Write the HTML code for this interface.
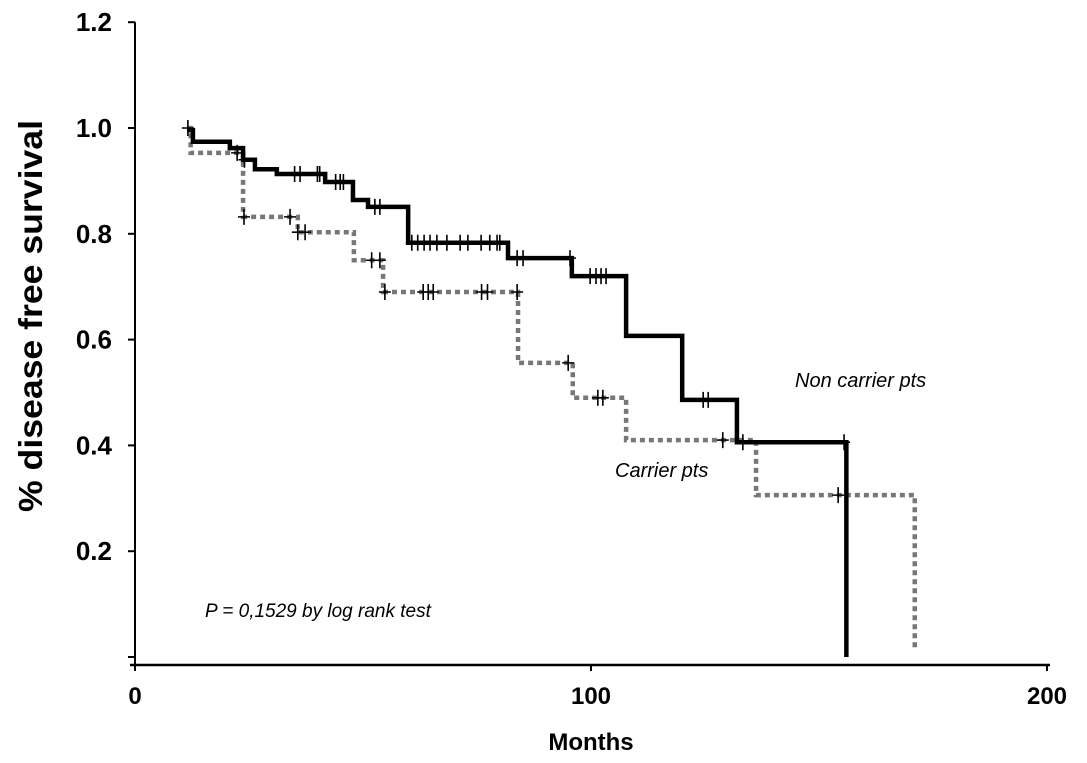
<!DOCTYPE html>
<html><head><meta charset="utf-8"><style>
body{margin:0;background:#fff;}
svg{display:block;font-family:"Liberation Sans",sans-serif;}
</style></head><body>
<svg id="chart" width="1087" height="763" viewBox="0 0 1087 763">
<g id="axes"></g>
<g id="series"></g>
<text x="0" y="0" transform="translate(42,316) rotate(-90)" text-anchor="middle" font-size="33" font-weight="bold" textLength="392" lengthAdjust="spacingAndGlyphs">% disease free survival</text>
<text x="591" y="750" text-anchor="middle" font-size="24" font-weight="bold">Months</text>
<text x="795" y="387" font-size="20" font-style="italic">Non carrier pts</text>
<text x="615" y="477" font-size="20" font-style="italic">Carrier pts</text>
<text x="205" y="617" font-size="19" font-style="italic">P = 0,1529 by log rank test</text>
</svg>
<script>
const xTicks=[0,100,200];
const yTicks=[0.2,0.4,0.6,0.8,1.0,1.2];
const yTickLabels=["0.2","0.4","0.6","0.8","1.0","1.2"];
const nonTimes=[11.4,12.7,20.8,23.7,26.3,31.1,41.7,47.8,51.1,59.9,81.8,95.8,107.7,120,132,156];
const nonSurv=[0.996,0.974,0.962,0.94,0.922,0.913,0.898,0.864,0.851,0.783,0.754,0.72,0.607,0.486,0.406,0];
const nonCensorT=[24,35,36.2,40,40.5,44,45,45.7,52.6,53.7,60.7,62,63.4,64.7,66.2,68.4,71.3,73,75.9,77.8,79.4,80,83.8,85.1,95.4,99.8,101.1,102.2,103.3,124.6,125.7,133.3,155.5];
const carTimes=[11.4,12.2,23.7,35.7,48,54.4,84,96,107.7,136.2,171];
const carSurv=[1.0,0.953,0.832,0.803,0.75,0.69,0.556,0.49,0.41,0.306,0.013];
const carCensorT=[11.6,22.4,23.9,34,35.7,37.3,51.9,53.7,54.8,63.2,64.3,65.4,76,77.3,83.8,95,101.5,102.6,128.9,154.2];
const X=m=>135+m*4.56, Y=s=>657-s*529;
const NS="http://www.w3.org/2000/svg";
function mk(t,a,p){const e=document.createElementNS(NS,t);for(const k in a)e.setAttribute(k,a[k]);p.appendChild(e);return e;}
const ax=document.getElementById('axes'), se=document.getElementById('series');
let e=mk('line',{x1:135,y1:22,x2:135,y2:665,stroke:'#000','stroke-width':2},ax);


e=mk('line',{x1:130,y1:665,x2:1050,y2:665,stroke:'#000','stroke-width':2.5},ax);


yTicks.concat([0]).forEach((v,i)=>{
 const t=mk('line',{x1:128,x2:135,y1:Y(v),y2:Y(v),stroke:'#000','stroke-width':2},ax);
 
 
 if(i<yTickLabels.length){
  const l=mk('text',{x:112,y:Y(v)+9,'text-anchor':'end','font-size':26,'font-weight':'bold'},ax);
  l.textContent=yTickLabels[i];
  
  
 }
});
xTicks.forEach(v=>{
 const t=mk('line',{x1:X(v),x2:X(v),y1:665,y2:671,stroke:'#000','stroke-width':2},ax);
 
 
 const l=mk('text',{x:X(v),y:704,'text-anchor':'middle','font-size':24,'font-weight':'bold'},ax);
 l.textContent=v;
 
 
});
function stepPath(T,S){let d='M'+X(T[0])+','+Y(S[0]);for(let i=1;i<T.length;i++){d+=' H'+X(T[i])+' V'+Y(S[i]);}return d;}
function survAt(T,S,t){let s=S[0];for(let i=0;i<T.length;i++){if(T[i]<=t)s=S[i];}return s;}
e=mk('path',{d:stepPath(carTimes,carSurv),fill:'none',stroke:'#777','stroke-width':4.5,'stroke-dasharray':'5,4'},se);


e=mk('path',{d:stepPath(nonTimes,nonSurv),fill:'none',stroke:'#000','stroke-width':4.5},se);


function censor(T,S,arr,name){arr.forEach(t=>{const x=X(t),y=Y(survAt(T,S,t));
 const c=mk('path',{d:`M${x-6},${y} H${x+6} M${x},${y-8} V${y+8}`,stroke:'#000','stroke-width':1.6,fill:'none'},se);
 
 });}
censor(carTimes,carSurv,carCensorT,'carrier-censor-mark');
censor(nonTimes,nonSurv,nonCensorT,'non-carrier-censor-mark');
</script>
</body></html>
